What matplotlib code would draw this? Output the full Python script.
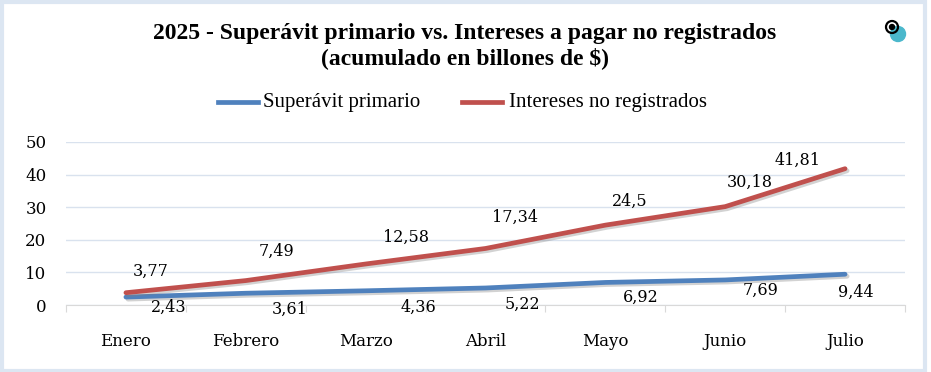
import matplotlib.pyplot as plt
import matplotlib.patheffects as pe
from matplotlib.patches import Rectangle, Ellipse

meses = ['Enero', 'Febrero', 'Marzo', 'Abril', 'Mayo', 'Junio', 'Julio']
superavit = [2.43, 3.61, 4.36, 5.22, 6.92, 7.69, 9.44]
intereses = [3.77, 7.49, 12.58, 17.34, 24.5, 30.18, 41.81]
etiq_sup = ['2,43', '3,61', '4,36', '5,22', '6,92', '7,69', '9,44']
etiq_int = ['3,77', '7,49', '12,58', '17,34', '24,5', '30,18', '41,81']

# desplazamientos de las etiquetas (en pixeles)
off_int = [(25, 21), (31, 29), (40, 27), (29, 31), (24, 24), (25, 24), (-48, 8)]
off_sup = [(43, -10), (44, -16), (53, -17), (37, -16), (35, -15), (35, -10), (11, -18)]

AZUL = '#4F81BD'
ROJO = '#C0504D'
plt.rcParams['font.family'] = ['DejaVu Serif']
TIT = 'Liberation Serif'

W, H = 931, 372
fig = plt.figure(figsize=(W / 100, H / 100), dpi=100)
ax = fig.add_axes([66 / W, (H - 305) / H, (905 - 66) / W, (305 - 142) / H])

x = list(range(len(meses)))
sombra = [pe.SimpleLineShadow(offset=(1.5, -1.5), alpha=0.35, shadow_color='gray'), pe.Normal()]
ax.plot(x, superavit, color=AZUL, lw=3.4, solid_capstyle='round', path_effects=sombra, zorder=3)
ax.plot(x, intereses, color=ROJO, lw=3.4, solid_capstyle='round', path_effects=sombra, zorder=3)

for i in x:
    ax.annotate(etiq_int[i], (i, intereses[i]), xytext=off_int[i], textcoords='offset pixels',
                ha='center', va='center', fontsize=11.5, color='black')
    ax.annotate(etiq_sup[i], (i, superavit[i]), xytext=off_sup[i], textcoords='offset pixels',
                ha='center', va='center', fontsize=11.5, color='black')

ax.set_xlim(-0.5, 6.5)
ax.set_ylim(0, 50)
ax.set_yticks([0, 10, 20, 30, 40, 50])
ax.grid(axis='y', color='#d9e2ee', lw=1)
ax.set_axisbelow(True)
for s in ['top', 'right', 'left']:
    ax.spines[s].set_visible(False)
ax.spines['bottom'].set_color('#d9d9d9')
ax.tick_params(axis='y', length=0, labelsize=12, pad=14)
ax.set_xticks([i + 0.5 for i in range(-1, 7)], minor=False)
ax.set_xticklabels([])
ax.tick_params(axis='x', which='major', length=5, color='#d9d9d9', direction='out')
ax.set_xticks(x, minor=True)
ax.set_xticklabels(meses, minor=True)
ax.tick_params(axis='x', which='minor', length=0, labelsize=12, pad=20)

fig.text(465 / W, 1 - 33 / H, '2025 - Superávit primario vs. Intereses a pagar no registrados',
         ha='center', va='center', fontsize=17, fontweight='bold', family=TIT)
fig.text(465 / W, 1 - 58 / H, '(acumulado en billones de $)',
         ha='center', va='center', fontsize=17, fontweight='bold', family=TIT)

# leyenda
fig.add_artist(plt.Line2D([218 / W, 258 / W], [1 - 102 / H] * 2, color=AZUL, lw=3.4))
fig.text(263 / W, 1 - 102 / H, 'Superávit primario', ha='left', va='center', fontsize=15,
         family=TIT)
fig.add_artist(plt.Line2D([462 / W, 502 / W], [1 - 102 / H] * 2, color=ROJO, lw=3.4))
fig.text(509 / W, 1 - 102 / H, 'Intereses no registrados', ha='left', va='center', fontsize=15,
         family=TIT)

# logo
fig.add_artist(Ellipse((898 / W, 1 - 34 / H), 15 / W, 15 / H, color='#4bb8cc', transform=fig.transFigure))
fig.add_artist(Ellipse((892 / W, 1 - 27 / H), 12 / W, 12 / H, fill=False,
                       ec='black', lw=1.6, transform=fig.transFigure))
fig.add_artist(Ellipse((892 / W, 1 - 27 / H), 5 / W, 5 / H, color='black',
                       transform=fig.transFigure))

# borde
fig.add_artist(Rectangle((1.5 / W, 1.5 / H), (W - 8) / W, (H - 3) / H, fill=False, ec='#dce6f2',
                         lw=3, transform=fig.transFigure))

fig.savefig('out.png', dpi=100)
